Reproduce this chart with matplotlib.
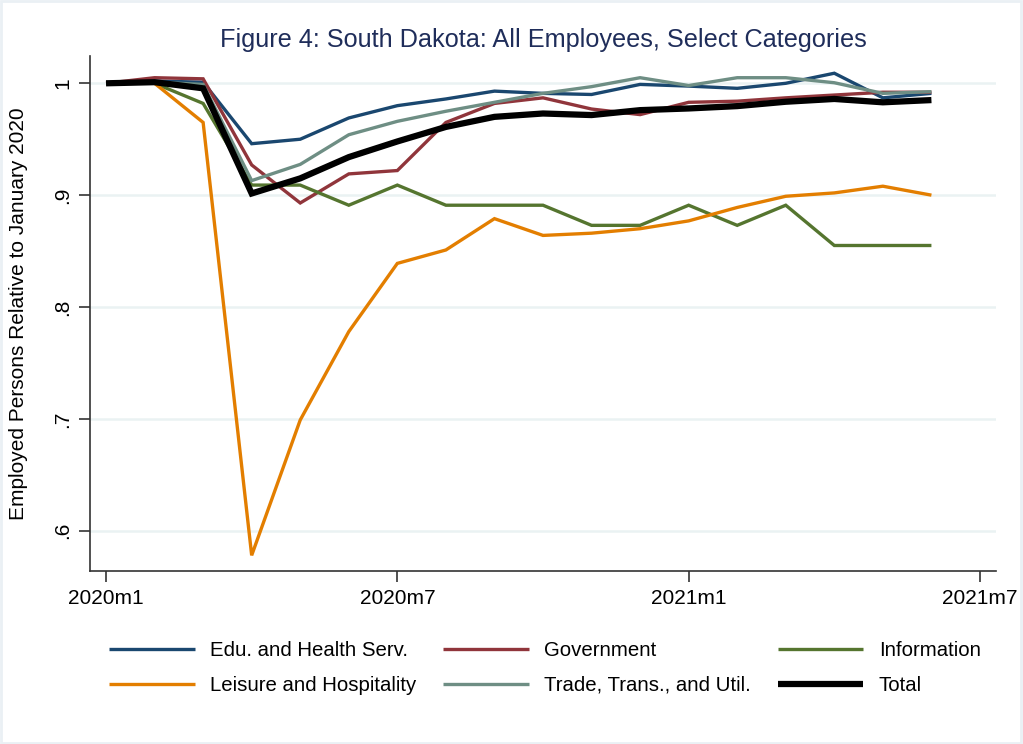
import matplotlib
matplotlib.use("Agg")
import matplotlib.pyplot as plt
from matplotlib.patches import Rectangle

months = list(range(18))  # 2020m1 .. 2021m6
tick_pos = [0, 6, 12, 18]
tick_labels = ["2020m1", "2020m7", "2021m1", "2021m7"]
ytick_pos = [0.6, 0.7, 0.8, 0.9, 1.0]
ytick_labels = [".6", ".7", ".8", ".9", "1"]

edu = [1.000, 1.002, 1.001, 0.946, 0.950, 0.969, 0.980, 0.986, 0.993, 0.991,
       0.990, 0.999, 0.9975, 0.9955, 1.000, 1.009, 0.987, 0.991]
gov = [1.000, 1.005, 1.004, 0.927, 0.893, 0.919, 0.922, 0.965, 0.982, 0.987,
       0.977, 0.972, 0.983, 0.984, 0.987, 0.9895, 0.992, 0.992]
info = [1.000, 1.000, 0.982, 0.909, 0.909, 0.891, 0.909, 0.891, 0.891, 0.891,
        0.873, 0.873, 0.891, 0.873, 0.891, 0.855, 0.855, 0.855]
leisure = [1.000, 1.000, 0.965, 0.578, 0.699, 0.778, 0.839, 0.851, 0.879, 0.864,
           0.866, 0.870, 0.877, 0.889, 0.899, 0.902, 0.908, 0.900]
trade = [1.000, 1.001, 0.999, 0.913, 0.9275, 0.954, 0.966, 0.975, 0.983, 0.991,
         0.997, 1.005, 0.998, 1.005, 1.005, 1.0005, 0.991, 0.9925]
total = [1.000, 1.001, 0.9955, 0.9015, 0.915, 0.934, 0.948, 0.961, 0.970, 0.973,
         0.9716, 0.976, 0.9775, 0.9796, 0.9835, 0.986, 0.983, 0.985]

series = [
    ("Edu. and Health Serv.", edu, "#1a476f", 2.4),
    ("Government", gov, "#90353b", 2.4),
    ("Information", info, "#55752f", 2.4),
    ("Leisure and Hospitality", leisure, "#e37e00", 2.4),
    ("Trade, Trans., and Util.", trade, "#6e8e84", 2.4),
    ("Total", total, "#000000", 4.5),
]

plt.rcParams['font.family'] = ['Liberation Sans', 'DejaVu Sans']

fig = plt.figure(figsize=(10.23, 7.44), dpi=100)
W, H = 1023, 744
ax = fig.add_axes([90 / W, 1 - 571 / H, (996 - 90) / W, (571 - 56) / H])

handles = {}
for name, vals, color, lw in series:
    ln, = ax.plot(months, vals, color=color, lw=lw, label=name,
                  solid_capstyle='butt', solid_joinstyle='miter',
                  zorder=3 if name != "Total" else 4)
    handles[name] = ln

ax.set_xlim(-0.33, 18.33)
ax.set_ylim(0.564, 1.0244)
ax.set_xticks(tick_pos)
ax.set_xticklabels(tick_labels, fontsize=15)
ax.set_yticks(ytick_pos)
ax.set_yticklabels(ytick_labels, fontsize=15, rotation=90, va='center')
ax.yaxis.grid(True, color='#eaf2f3', lw=1.8, zorder=0)
ax.set_axisbelow(True)
for s in ['top', 'right']:
    ax.spines[s].set_visible(False)
for s in ['left', 'bottom']:
    ax.spines[s].set_color('#333333')
    ax.spines[s].set_linewidth(1.2)
ax.tick_params(axis='both', length=8, width=1.2, color='#333333', pad=5)
ax.set_ylabel("Employed Persons Relative to January 2020", fontsize=15, labelpad=18)

fig.text(543 / W, 1 - 40 / H, "Figure 4: South Dakota: All Employees, Select Categories",
         ha='center', va='center', fontsize=18.2, color='#1f2d5a')

order = ["Edu. and Health Serv.", "Leisure and Hospitality", "Government",
         "Trade, Trans., and Util.", "Information", "Total"]
leg = fig.legend([handles[n] for n in order], order, ncol=3, loc='center',
                 bbox_to_anchor=(545 / W, 1 - 668 / H), frameon=False, fontsize=14.7,
                 handlelength=4.2, handletextpad=0.75, columnspacing=1.3,
                 labelspacing=0.76)

fig.add_artist(Rectangle((0.001, 0.001), 0.997, 0.997, transform=fig.transFigure,
                         fill=False, edgecolor='#eaf0f4', lw=2))

fig.savefig("out.png", dpi=100, facecolor='white')
